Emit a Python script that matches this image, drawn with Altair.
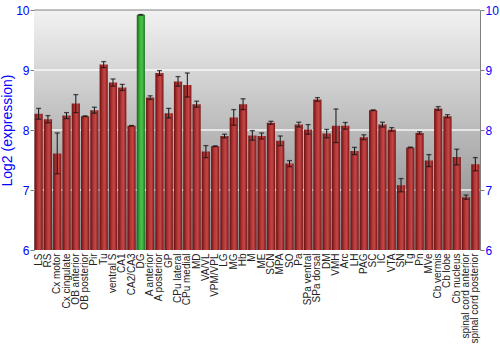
import altair as alt
import pandas as pd

regions = ["LS", "RS", "Cx motor", "Cx cingulate", "OB anterior", "OB posterior", "Pir", "Tu",
           "ventral S", "CA1", "CA2/CA3", "DG", "A anterior", "A posterior", "GP", "CPu lateral",
           "CPu medial", "MD", "VA/VL", "VPM/VPL", "LG", "MG", "Hb", "M", "ME", "SCN", "MPA", "SO",
           "Pa", "SPa ventral", "SPa dorsal", "DM", "VMH", "Arc", "LH", "PAG", "SC", "IC", "VTA",
           "SN", "Tg", "Pn", "MVe", "Cb vermis", "Cb lobe", "Cb nucleus", "spinal cord anterior",
           "spinal cord posterior"]
values = [8.27, 8.18, 7.61, 8.24, 8.44, 8.23, 8.33, 9.09,
          8.79, 8.71, 8.07, 9.92, 8.54, 8.95, 8.28, 8.81,
          8.75, 8.43, 7.64, 7.73, 7.90, 8.21, 8.43, 7.91, 7.90, 8.12, 7.82, 7.44,
          8.09, 8.01, 8.51, 7.94, 8.07, 8.07, 7.65, 7.88, 8.33, 8.09, 8.01,
          7.08, 7.71, 7.95, 7.49, 8.36, 8.23, 7.55, 6.88, 7.43]
errors = [0.09, 0.06, 0.34, 0.05, 0.15, 0.005, 0.05, 0.05,
          0.06, 0.05, 0.005, 0.005, 0.03, 0.04, 0.08, 0.08,
          0.20, 0.05, 0.10, 0.005, 0.03, 0.13, 0.09, 0.08, 0.05, 0.025, 0.08, 0.05,
          0.04, 0.08, 0.03, 0.07, 0.28, 0.055, 0.06, 0.04, 0.005, 0.04, 0.03,
          0.11, 0.005, 0.02, 0.10, 0.03, 0.025, 0.13, 0.035, 0.11]
highlight = "DG"
grid_values = [7, 8, 9]
tick_values = [6, 7, 8, 9, 10]

df = pd.DataFrame({"region": regions, "value": values, "err": errors})
df["lo"] = df["value"] - df["err"]
df["hi"] = df["value"] + df["err"]
df["base"] = 6.0
df["hl"] = df["region"] == highlight

W, H = 446, 240
yscale = alt.Scale(domain=[6, 10], nice=False, zero=False)
FONT = "Liberation Sans"

left_axis = alt.Axis(values=tick_values, title="Log2 (expression)", titleColor="#0000ff",
                     titleFont=FONT, titleFontSize=14, titleFontWeight="normal", titlePadding=1,
                     labelColor="#0000ff", labelFont=FONT, labelFontSize=12, labelPadding=1,
                     tickColor="#808080", tickSize=4, domainColor="#808080", grid=False)
right_axis = alt.Axis(values=tick_values, orient="right", title=None,
                      labelColor="#0000ff", labelFont=FONT, labelFontSize=12, labelPadding=1,
                      tickColor="#808080", tickSize=4, domainColor="#808080", grid=False)

xenc = alt.X("region:N", sort=regions,
             scale=alt.Scale(paddingInner=0.12, paddingOuter=0.06),
             axis=alt.Axis(title=None, labelAngle=-90, labelFont=FONT, labelFontSize=10,
                           labelColor="#222222", ticks=False, domain=False, labelPadding=3,
                           labelOverlap=False))

bg_grad = alt.Gradient(gradient="linear", x1=0, x2=0, y1=0, y2=1,
                       stops=[alt.GradientStop(offset=0, color="#f2f2f2"),
                              alt.GradientStop(offset=1, color="#828282")])
red_grad = alt.Gradient(gradient="linear", x1=0, x2=1, y1=0, y2=0,
                        stops=[alt.GradientStop(offset=0, color="#6a0f0f"),
                               alt.GradientStop(offset=0.4, color="#b53838"),
                               alt.GradientStop(offset=0.65, color="#c44646"),
                               alt.GradientStop(offset=1, color="#7a1515")])
green_grad = alt.Gradient(gradient="linear", x1=0, x2=1, y1=0, y2=0,
                          stops=[alt.GradientStop(offset=0, color="#17661a"),
                                 alt.GradientStop(offset=0.4, color="#3fb33f"),
                                 alt.GradientStop(offset=0.65, color="#4cc24c"),
                                 alt.GradientStop(offset=1, color="#1d751f")])

bg = alt.Chart(pd.DataFrame({"a": [0]})).mark_rect(fill=bg_grad).encode(
    x=alt.value(0), x2=alt.value(W), y=alt.value(0), y2=alt.value(H))

grid = alt.Chart(pd.DataFrame({"g": grid_values})).mark_rule(
    color="#ffffff", strokeWidth=1.5, opacity=0.85).encode(
    y=alt.Y("g:Q", scale=yscale, axis=right_axis))

top = alt.Chart(pd.DataFrame({"t": [10]})).mark_rule(color="#808080", strokeWidth=1).encode(
    y=alt.Y("t:Q", scale=yscale, axis=None))

base = alt.Chart(df)
bars_red = base.transform_filter("!datum.hl").mark_bar(fill=red_grad).encode(
    x=xenc, y=alt.Y("value:Q", scale=yscale, axis=left_axis), y2="base:Q")
bars_green = base.transform_filter("datum.hl").mark_bar(fill=green_grad).encode(
    x=xenc, y=alt.Y("value:Q", scale=yscale, axis=None), y2="base:Q")
err_rule = base.mark_rule(color="#111111", strokeWidth=1).encode(
    x=xenc, y=alt.Y("lo:Q", scale=yscale, axis=None), y2="hi:Q")
cap_lo = base.mark_tick(color="#111111", size=5, thickness=1.3).encode(
    x=xenc, y=alt.Y("lo:Q", scale=yscale, axis=None))
cap_hi = base.mark_tick(color="#111111", size=5, thickness=1.3).encode(
    x=xenc, y=alt.Y("hi:Q", scale=yscale, axis=None))

chart = alt.layer(bg, grid, bars_red, bars_green, err_rule, cap_lo, cap_hi, top).resolve_scale(
    y="independent").properties(
    width=W, height=H,
    autosize=alt.AutoSizeParams(type="none"),
    padding={"left": 34, "top": 10, "right": 20, "bottom": 100},
    background="#ffffff").configure_view(stroke=None)

chart.save("out.html", embed_options={"renderer": "svg", "actions": False})
